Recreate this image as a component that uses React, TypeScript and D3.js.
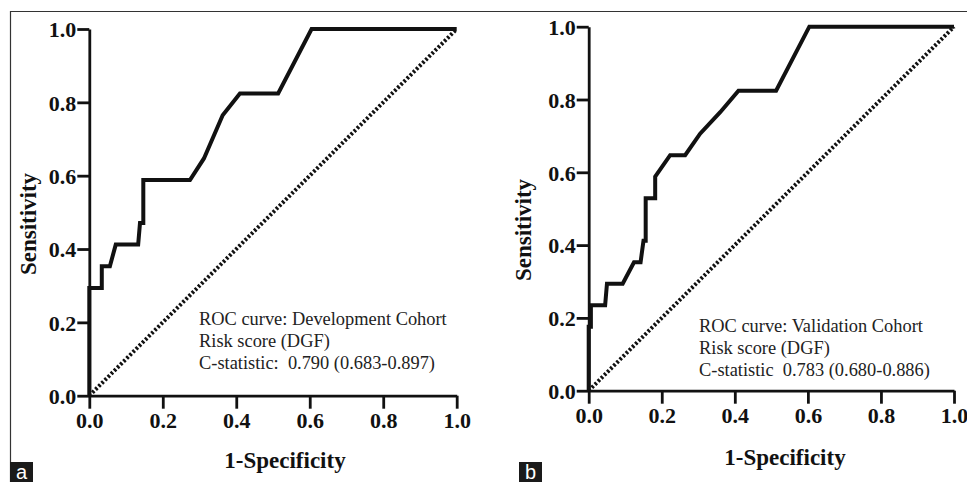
import React, { useEffect, useRef } from "react";
import * as d3 from "d3";

// ROC curve values (1-specificity vs sensitivity)
const devFpr = [0, 0, 0.034, 0.034, 0.056, 0.072, 0.133, 0.138, 0.147, 0.147, 0.274, 0.312, 0.363, 0.41, 0.514, 0.605, 1];
const devTpr = [0, 0.294, 0.294, 0.353, 0.353, 0.412, 0.412, 0.471, 0.471, 0.588, 0.588, 0.647, 0.765, 0.824, 0.824, 1, 1];

const valFpr = [0, 0, 0.006, 0.006, 0.045, 0.05, 0.093, 0.124, 0.142, 0.15, 0.156, 0.156, 0.182, 0.182, 0.223, 0.264, 0.305, 0.36, 0.41, 0.513, 0.604, 1];
const valTpr = [0, 0.176, 0.176, 0.235, 0.235, 0.294, 0.294, 0.353, 0.353, 0.412, 0.412, 0.529, 0.529, 0.588, 0.647, 0.647, 0.706, 0.765, 0.824, 0.824, 1, 1];

const tickValues = [0, 0.2, 0.4, 0.6, 0.8, 1.0];

const devNotes = ["ROC curve: Development Cohort", "Risk score (DGF)", "C-statistic:  0.790 (0.683-0.897)"];
const valNotes = ["ROC curve: Validation Cohort", "Risk score (DGF)", "C-statistic  0.783 (0.680-0.886)"];

const serif = "'Liberation Serif', 'Times New Roman', serif";

const App = () => {
  const svgRef = useRef<SVGSVGElement>(null);

  useEffect(() => {
    const svg = d3.select(svgRef.current);
    svg.selectAll("*").remove();

    // thin frame along top and left edge
    svg.append("path")
      .attr("d", "M10.5,482 V11.5 H967")
      .attr("fill", "none")
      .attr("stroke", "#333")
      .attr("stroke-width", 1.2);

    const panels = [
      { fpr: devFpr, tpr: devTpr, notes: devNotes, left: 89.3, right: 456.7, bottom: 395.7, top: 29, noteX: 199, noteY: 325, label: "a", labelX: 10, xTitleX: 285, xTitleY: 468, yTitleX: 36, yTitleY: 224, xLabelY: 428 },
      { fpr: valFpr, tpr: valTpr, notes: valNotes, left: 588.7, right: 954, bottom: 390.7, top: 26.7, noteX: 699, noteY: 332, label: "b", labelX: 519, xTitleX: 785, xTitleY: 465, yTitleX: 531, yTitleY: 230, xLabelY: 423 },
    ];

    panels.forEach((p) => {
      const x = d3.scaleLinear().domain([0, 1]).range([p.left, p.right]);
      const y = d3.scaleLinear().domain([0, 1]).range([p.bottom, p.top]);
      const g = svg.append("g");

      // chance diagonal (dotted)
      g.append("line")
        .attr("x1", x(0)).attr("y1", y(0))
        .attr("x2", x(1)).attr("y2", y(1))
        .attr("stroke", "#111")
        .attr("stroke-width", 4)
        .attr("stroke-dasharray", "2.4 2");

      // ROC curve
      const pts = p.fpr.map((f, i) => [f, p.tpr[i]] as [number, number]);
      const line = d3.line<[number, number]>().x((d) => x(d[0])).y((d) => y(d[1]));
      g.append("path")
        .datum(pts)
        .attr("fill", "none")
        .attr("stroke", "#111")
        .attr("stroke-width", 4)
        .attr("stroke-linejoin", "miter")
        .attr("d", line);

      // axes
      const xAxis = g.append("g")
        .attr("transform", `translate(0, ${p.bottom})`)
        .call(d3.axisBottom(x).tickValues(tickValues).tickSize(13).tickSizeOuter(0).tickPadding(6).tickFormat(d3.format(".1f")));
      const yAxis = g.append("g")
        .attr("transform", `translate(${p.left}, 0)`)
        .call(d3.axisLeft(y).tickValues(tickValues).tickSize(12).tickSizeOuter(0).tickPadding(1).tickFormat(d3.format(".1f")));

      [xAxis, yAxis].forEach((a) => {
        a.selectAll("path, line").attr("stroke", "#111").attr("stroke-width", 2.8);
        a.selectAll("text")
          .attr("fill", "#111")
          .style("font-family", serif)
          .style("font-weight", "bold")
          .style("font-size", "22px");
      });
      xAxis.selectAll("text").attr("dy", null).attr("y", p.xLabelY - p.bottom).attr("dominant-baseline", "auto");
      yAxis.selectAll("text").attr("dy", "0.35em");

      // axis titles
      g.append("text")
        .attr("x", p.xTitleX)
        .attr("y", p.xTitleY)
        .attr("text-anchor", "middle")
        .style("font-family", serif)
        .style("font-weight", "bold")
        .style("font-size", "23px")
        .attr("fill", "#111")
        .text("1-Specificity");

      g.append("text")
        .attr("transform", `translate(${p.yTitleX}, ${p.yTitleY}) rotate(-90)`)
        .attr("text-anchor", "middle")
        .style("font-family", serif)
        .style("font-weight", "bold")
        .style("font-size", "23px")
        .attr("fill", "#111")
        .text("Sensitivity");

      // annotation block
      p.notes.forEach((t, i) => {
        g.append("text")
          .attr("x", p.noteX)
          .attr("y", p.noteY + i * 22)
          .style("font-family", serif)
          .style("font-size", "18.4px")
          .attr("fill", "#222")
          .style("white-space", "pre")
          .text(t);
      });

      // panel letter
      g.append("rect")
        .attr("x", p.labelX)
        .attr("y", 462)
        .attr("width", 23)
        .attr("height", 20)
        .attr("fill", "#1a1a1a");
      g.append("text")
        .attr("x", p.labelX + 11.5)
        .attr("y", 479)
        .attr("text-anchor", "middle")
        .style("font-family", "'Liberation Sans', Arial, sans-serif")
        .style("font-size", "20px")
        .attr("fill", "#fff")
        .text(p.label);
    });
  }, []);

  return (
    <div style={{ position: "absolute", left: 0, top: 0, width: 967, height: 482, background: "#fff" }}>
      <svg ref={svgRef} width={967} height={482}></svg>
    </div>
  );
};

export default App;
